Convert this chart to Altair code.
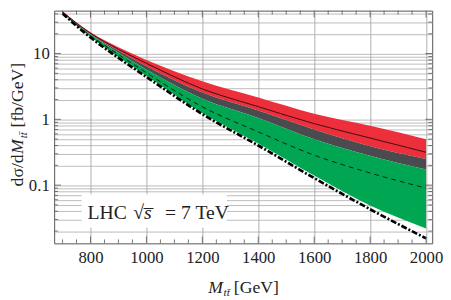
import altair as alt
import pandas as pd

# ---- data ----
M = [700, 800, 900, 1000, 1200, 1400, 1600, 1800, 2000]
red_top = [44.0, 21.0, 12.5, 8.0, 3.80, 2.15, 1.22, 0.80, 0.50]
solid = [43.0, 20.3, 11.6, 7.1, 2.90, 1.56, 0.86, 0.52, 0.316]
red_bot = [42.5, 19.8, 11.0, 6.4, 2.55, 1.36, 0.70, 0.39, 0.25]
dark_bot = [42.0, 19.4, 10.3, 5.7, 2.05, 1.05, 0.50, 0.28, 0.173]
dashed = [41.5, 18.7, 9.7, 5.1, 1.55, 0.645, 0.285, 0.153, 0.090]
green_bot = [41.0, 17.9, 8.9, 4.6, 1.25, 0.43, 0.140, 0.049, 0.022]
lo = [40.5, 17.5, 8.6, 4.4, 1.20, 0.40, 0.128, 0.043, 0.0155]

x_major = [800, 1000, 1200, 1400, 1600, 1800, 2000]
x_minor = [700, 750, 850, 900, 950, 1050, 1100, 1150, 1250, 1300, 1350,
           1450, 1500, 1550, 1650, 1700, 1750, 1850, 1900, 1950]
y_major = [0.1, 1, 10]
y_minor = [0.02, 0.03, 0.04, 0.05, 0.06, 0.07, 0.08, 0.09,
           0.2, 0.3, 0.4, 0.5, 0.6, 0.7, 0.8, 0.9,
           2, 3, 4, 5, 6, 7, 8, 9, 20, 30, 40]

RED = "#ED2F3B"
DARK = "#4B4A4E"
GREEN = "#00A651"
FRAME = "#555555"
TXT = "#222222"
FONT = "Liberation Serif"

W, H = 385, 237

df = pd.DataFrame(dict(M=M, red_top=red_top, solid=solid, red_bot=red_bot,
                       dark_bot=dark_bot, dashed=dashed, green_bot=green_bot, lo=lo))

xs = alt.Scale(domain=[670, 2022], nice=False, zero=False)
ys = alt.Scale(type="log", domain=[0.01303, 44.9], nice=False)

xax = alt.Axis(values=x_major, grid=True, gridColor="#9a9a9a", gridWidth=0.8,
               ticks=False, tickSize=0, domain=False, labelFont=FONT, format="d",
               labelFontSize=17, labelPadding=7, labelColor=TXT, labelFlush=False)
yax = alt.Axis(values=y_major + y_minor, grid=True, gridColor="#ababab", gridWidth=0.8,
               ticks=False, tickSize=0, domain=False, labelFont=FONT,
               labelFontSize=17, labelPadding=5, labelColor=TXT,
               labelExpr="(datum.value == 0.1 || datum.value == 1 || datum.value == 10) ? datum.label : ''",
               format="~g", labelFlush=False)


def X(field="M"):
    return alt.X(f"{field}:Q", scale=xs, axis=xax, title=None)


def Y(field):
    return alt.Y(f"{field}:Q", scale=ys, axis=yax, title=None)


base = alt.Chart(df)

red_band = base.mark_area(color=RED, interpolate="monotone").encode(
    x=X(), y=Y("red_top"), y2="red_bot:Q")
dark_band = base.mark_area(color=DARK, interpolate="monotone").encode(
    x=X(), y=Y("red_bot"), y2="dark_bot:Q")
green_band = base.mark_area(color=GREEN, interpolate="monotone").encode(
    x=X(), y=Y("dark_bot"), y2="green_bot:Q")

solid_line = base.mark_line(color="#2a0a0a", strokeWidth=0.9, interpolate="monotone").encode(
    x=X(), y=Y("solid"))
dashed_line = base.mark_line(color="#111", strokeWidth=0.9, strokeDash=[5, 4],
                             interpolate="monotone").encode(x=X(), y=Y("dashed"))
lo_line = base.mark_line(color="#000", strokeWidth=2.7, strokeDash=[6, 2, 2, 2],
                         interpolate="monotone").encode(x=X(), y=Y("lo"))

# inward frame ticks
xmaj = alt.Chart(pd.DataFrame({"M": x_major}))
xmin = alt.Chart(pd.DataFrame({"M": x_minor}))
ymaj = alt.Chart(pd.DataFrame({"v": y_major}))
ymin = alt.Chart(pd.DataFrame({"v": y_minor}))
tk = dict(color=FRAME, strokeWidth=0.8)
ticks = [
    xmaj.mark_rule(**tk).encode(x=X(), y=alt.value(H), y2=alt.value(H - 7)),
    xmaj.mark_rule(**tk).encode(x=X(), y=alt.value(0), y2=alt.value(7)),
    xmin.mark_rule(**tk).encode(x=X(), y=alt.value(H), y2=alt.value(H - 4)),
    xmin.mark_rule(**tk).encode(x=X(), y=alt.value(0), y2=alt.value(4)),
    ymaj.mark_rule(**tk).encode(y=Y("v"), x=alt.value(0), x2=alt.value(7)),
    ymaj.mark_rule(**tk).encode(y=Y("v"), x=alt.value(W), x2=alt.value(W - 7)),
    ymin.mark_rule(**tk).encode(y=Y("v"), x=alt.value(0), x2=alt.value(4)),
    ymin.mark_rule(**tk).encode(y=Y("v"), x=alt.value(W), x2=alt.value(W - 4)),
]


def piece(text, x, y, size=18, italic=False, angle=0):
    kw = dict(font=FONT, fontSize=size, color=TXT, align="left", baseline="alphabetic")
    if italic:
        kw["fontStyle"] = "italic"
    if angle:
        kw["angle"] = angle
    return alt.Chart(pd.DataFrame({"t": [text]})).mark_text(**kw).encode(
        x=alt.value(x), y=alt.value(y), text="t:N")


# inset label box
box = alt.Chart(pd.DataFrame({"t": ["box"]})).mark_rect(color="white").encode(
    x=alt.value(28), x2=alt.value(176), y=alt.value(187), y2=alt.value(221))
legend = [
    box,
    piece("LHC", 34, 212.5, size=20),
    piece("\u221A", 80.5, 212.5, size=20),
    piece("s\u0305", 91.5, 212.5, size=20, italic=True),
    piece("= 7 TeV", 113, 212.5, size=20),
]

# axis titles (mixed italic / upright)
xtitle = [
    piece("M", 157, 287.7, italic=True),
    piece("tt\u0304", 172.5, 291, size=11.5, italic=True),
    piece("[GeV]", 183, 287.7),
]
ytitle = [
    piece("d\u03C3/d", -31.5, 179, angle=270),
    piece("M", -31.5, 146, italic=True, angle=270),
    piece("tt\u0304", -28, 130, size=11.5, italic=True, angle=270),
    piece("[fb/GeV]", -31.5, 119, angle=270),
]

chart = alt.layer(red_band, dark_band, green_band, solid_line, dashed_line, lo_line,
                  *ticks, *legend, *xtitle, *ytitle).properties(
    width=W, height=H,
    padding={"left": 47, "top": 0, "right": 11, "bottom": 55},
    autosize=alt.AutoSizeParams(type="none"),
).configure_view(stroke=FRAME, strokeWidth=1)

chart.save("out.html", embed_options={"renderer": "svg", "actions": False})
